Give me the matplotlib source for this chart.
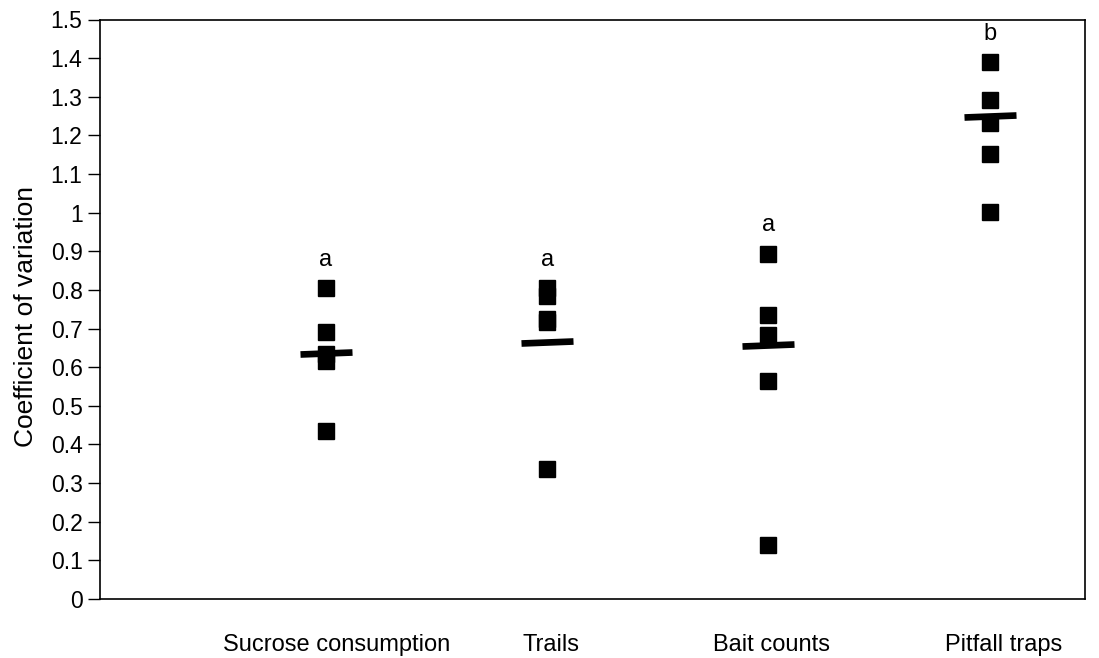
import numpy as np
import matplotlib
matplotlib.use("Agg")
import matplotlib.pyplot as plt
from matplotlib.markers import MarkerStyle
from matplotlib.transforms import Affine2D

plt.rcParams['font.family'] = ['Liberation Sans', 'DejaVu Sans']

# coefficient of variation per sampling method (one point per site)
methods = ['Sucrose consumption', 'Trails', 'Bait counts', 'Pitfall traps']
cv_sucrose = [0.805, 0.69, 0.635, 0.617, 0.436]
cv_trails = [0.804, 0.785, 0.725, 0.716, 0.337]
cv_bait = [0.894, 0.735, 0.684, 0.565, 0.139]
cv_pitfall = [1.39, 1.291, 1.231, 1.151, 1.003]
cv_mean = [0.638, 0.666, 0.658, 1.249]
groups = ['a', 'a', 'a', 'b']

all_cv = [cv_sucrose, cv_trails, cv_bait, cv_pitfall]
xpos = np.arange(1, len(methods) + 1)

fig = plt.figure(figsize=(10.99, 6.58), dpi=100)
ax = fig.add_axes([100 / 1099, 59 / 658, 985 / 1099, 579.5 / 658])

for x, vals in zip(xpos, all_cv):
    ax.plot([x] * len(vals), vals, ls='none', marker='s', ms=11.5,
            color='black', mec='black')

# mean bars, drawn slightly tilted
bar_marker = MarkerStyle('_', transform=Affine2D().rotate_deg(2.2))
ax.plot(xpos, cv_mean, ls='none', marker=bar_marker, ms=37, mew=4.8,
        color='black')

# significance letters above each group
for x, vals, g in zip(xpos, all_cv, groups):
    ax.text(x, max(vals) + 0.073, g, ha='center', va='center', fontsize=17)

ax.set_xlim(-0.02, 4.43)
ax.set_ylim(0, 1.5)
yt = np.round(np.arange(0, 1.51, 0.1), 1)
ax.set_yticks(yt)
ax.set_yticklabels([f'{v:g}' for v in yt])
ax.tick_params(axis='y', length=8.6, width=1, labelsize=16.5, pad=4)
ax.set_xticks([])
ax.set_ylabel('Coefficient of variation', fontsize=19)
ax.yaxis.set_label_coords(-0.063, 0.487)

label_x = [1.047, 2.017, 3.014, 4.063]
for lx, name in zip(label_x, methods):
    ax.text(lx, -0.12, name, ha='center', va='center', fontsize=17)

for s in ax.spines.values():
    s.set_linewidth(1.2)

fig.savefig('out.png', dpi=100)
